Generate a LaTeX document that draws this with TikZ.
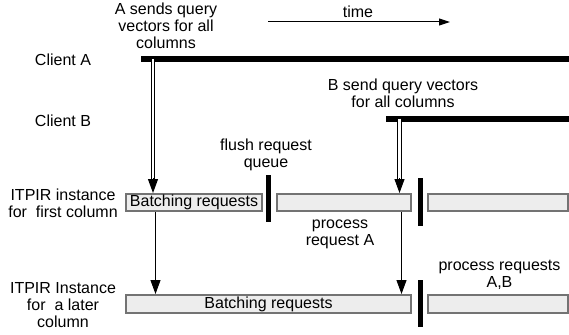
\documentclass[tikz,border=0pt]{standalone}
\usepackage{fontspec}
\setmainfont{Liberation Sans}
\usetikzlibrary{arrows.meta, calc}

\tikzset{
  lbl/.style={align=center, inner sep=0pt, font=\fontsize{16}{17}\selectfont},
  phase/.style={draw=black!55, line width=2pt, fill=black!7, inner sep=0pt,
    minimum height=17pt, font=\fontsize{16}{17}\selectfont},
  clientbar/.style={line width=6pt},
  flushbar/.style={line width=5pt},
  sendline/.style={double, double distance=2.6pt, line width=0.9pt},
  tip/.style={-{Triangle[width=10pt,length=14pt]}, line width=1pt},
}

\begin{document}
\begin{tikzpicture}[x=1pt, y=-1pt]
        \useasboundingbox (0,0) rectangle (569,334);

        % time axis
        \coordinate (t0) at (268,22);
        \coordinate (t1) at (450,22);
        \draw [-{Triangle[width=7pt,length=11pt]}, line width=1pt] (t0) -- (t1);
        \node [lbl] (time) at (358,12) {time};

        % left labels
        \node [lbl] (clientA) at (63,60) {Client A};
        \node [lbl] (clientB) at (63,121) {Client B};
        \node [lbl] (first) at (63,203) {ITPIR instance\\for\ \ first column};
        \node [lbl] (later) at (63,305) {ITPIR Instance\\for\ \ a later\\column};

        % clients
        \coordinate (a0) at (141,59);
        \coordinate (a1) at (570,59);
        \coordinate (b0) at (386,118.5);
        \coordinate (b1) at (570,118.5);
        \draw [clientbar] (a0) -- (a1);
        \draw [clientbar] (b0) -- (b1);
        \node [lbl] (sendsA) at (166,26) {A sends query\\vectors for all\\columns};
        \node [lbl] (sendsB) at (403,93) {B send query vectors\\for all columns};

        % ITPIR instances
        \node [phase, minimum width=136pt] (batchA) at (194,202.5) {Batching requests};
        \node [phase, minimum width=134pt] (procA) at (344,202.5) {};
        \node [phase, minimum width=140pt] (restA) at (498,202.5) {};
        \node [phase, minimum width=285pt, minimum height=18pt] (batchL) at (268.5,304) {Batching requests};
        \node [phase, minimum width=140pt, minimum height=18pt] (restL) at (498,304) {};

        % flush bars
        \draw [flushbar] (268,175) -- (268,222);
        \draw [flushbar] (420,178) -- (420,226);
        \draw [flushbar] (420,280) -- (420,327);
        \node [lbl] (flush) at (266,155) {flush request\\queue};
        \node [lbl] (procAtxt) at (340,234.5) {process\\request A};
        \node [lbl] (procAB) at (499.5,275) {process requests\\A,B};

        % query vectors sent
        \coordinate (sA) at (153,59);
        \coordinate (sB) at (399.5,118.5);
        \draw [sendline] (sA) -- ($(sA |- batchA.north)+(0,-13)$);
        \draw [tip] ($(sA |- batchA.north)+(0,-15)$) -- (sA |- batchA.north);
        \draw [sendline] (sB) -- ($(sB |- procA.north)+(0,-13)$);
        \draw [tip] ($(sB |- procA.north)+(0,-15)$) -- (sB |- procA.north);

        % forwarded to later column
        \coordinate (fA) at (155.5,0);
        \coordinate (fB) at (401.5,0);
        \draw [tip] (batchA.south -| fA) -- (batchL.north -| fA);
        \draw [tip] (procA.south -| fB) -- (batchL.north -| fB);
\end{tikzpicture}
\end{document}
